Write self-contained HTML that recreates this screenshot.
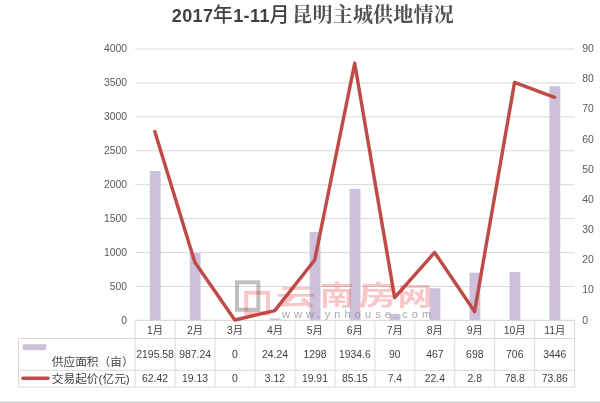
<!DOCTYPE html>
<html><head><meta charset="utf-8"><title>2017年1-11月 昆明主城供地情况</title>
<style>
html,body{margin:0;padding:0;background:#fff;}
body{width:600px;height:403px;overflow:hidden;position:relative;}
svg{display:block;position:absolute;left:0;top:0;}
text{font-family:"Liberation Sans","Noto Sans CJK SC",sans-serif;}
.ax{font-size:10.4px;fill:#595959;}
.tb{font-size:10.4px;fill:#404040;}
.cj{font-size:11.7px;fill:#404040;}
</style></head><body>
<svg width="600" height="403" viewBox="0 0 600 403">
<rect x="0" y="0" width="600" height="403" fill="#ffffff"/>

<line x1="135.1" y1="320.40" x2="574.7" y2="320.40" stroke="#d9d9d9" stroke-width="1"/>
<text class="ax" x="127" y="323.80" text-anchor="end">0</text>
<line x1="135.1" y1="286.47" x2="574.7" y2="286.47" stroke="#d9d9d9" stroke-width="1"/>
<text class="ax" x="127" y="289.87" text-anchor="end">500</text>
<line x1="135.1" y1="252.55" x2="574.7" y2="252.55" stroke="#d9d9d9" stroke-width="1"/>
<text class="ax" x="127" y="255.95" text-anchor="end">1000</text>
<line x1="135.1" y1="218.62" x2="574.7" y2="218.62" stroke="#d9d9d9" stroke-width="1"/>
<text class="ax" x="127" y="222.03" text-anchor="end">1500</text>
<line x1="135.1" y1="184.70" x2="574.7" y2="184.70" stroke="#d9d9d9" stroke-width="1"/>
<text class="ax" x="127" y="188.10" text-anchor="end">2000</text>
<line x1="135.1" y1="150.77" x2="574.7" y2="150.77" stroke="#d9d9d9" stroke-width="1"/>
<text class="ax" x="127" y="154.17" text-anchor="end">2500</text>
<line x1="135.1" y1="116.85" x2="574.7" y2="116.85" stroke="#d9d9d9" stroke-width="1"/>
<text class="ax" x="127" y="120.25" text-anchor="end">3000</text>
<line x1="135.1" y1="82.93" x2="574.7" y2="82.93" stroke="#d9d9d9" stroke-width="1"/>
<text class="ax" x="127" y="86.33" text-anchor="end">3500</text>
<line x1="135.1" y1="49.00" x2="574.7" y2="49.00" stroke="#d9d9d9" stroke-width="1"/>
<text class="ax" x="127" y="52.40" text-anchor="end">4000</text>
<text class="ax" x="582.2" y="323.50">0</text>
<text class="ax" x="582.2" y="293.34">10</text>
<text class="ax" x="582.2" y="263.19">20</text>
<text class="ax" x="582.2" y="233.03">30</text>
<text class="ax" x="582.2" y="202.88">40</text>
<text class="ax" x="582.2" y="172.72">50</text>
<text class="ax" x="582.2" y="142.57">60</text>
<text class="ax" x="582.2" y="112.41">70</text>
<text class="ax" x="582.2" y="82.26">80</text>
<text class="ax" x="582.2" y="52.10">90</text>
<rect x="149.83" y="171.03" width="10.8" height="149.37" fill="#ccc0da"/>
<rect x="189.80" y="253.02" width="10.8" height="67.38" fill="#ccc0da"/>
<rect x="269.72" y="318.36" width="10.8" height="2.04" fill="#ccc0da"/>
<rect x="309.69" y="231.93" width="10.8" height="88.47" fill="#ccc0da"/>
<rect x="349.65" y="188.74" width="10.8" height="131.66" fill="#ccc0da"/>
<rect x="389.61" y="313.89" width="10.8" height="6.51" fill="#ccc0da"/>
<rect x="429.58" y="288.31" width="10.8" height="32.09" fill="#ccc0da"/>
<rect x="469.54" y="272.64" width="10.8" height="47.76" fill="#ccc0da"/>
<rect x="509.50" y="272.10" width="10.8" height="48.30" fill="#ccc0da"/>
<rect x="549.47" y="86.19" width="10.8" height="234.21" fill="#ccc0da"/>
<line x1="135.10" y1="320.4" x2="135.10" y2="387" stroke="#d9d9d9"/>
<line x1="175.06" y1="320.4" x2="175.06" y2="387" stroke="#d9d9d9"/>
<line x1="215.03" y1="320.4" x2="215.03" y2="387" stroke="#d9d9d9"/>
<line x1="254.99" y1="320.4" x2="254.99" y2="387" stroke="#d9d9d9"/>
<line x1="294.95" y1="320.4" x2="294.95" y2="387" stroke="#d9d9d9"/>
<line x1="334.92" y1="320.4" x2="334.92" y2="387" stroke="#d9d9d9"/>
<line x1="374.88" y1="320.4" x2="374.88" y2="387" stroke="#d9d9d9"/>
<line x1="414.85" y1="320.4" x2="414.85" y2="387" stroke="#d9d9d9"/>
<line x1="454.81" y1="320.4" x2="454.81" y2="387" stroke="#d9d9d9"/>
<line x1="494.77" y1="320.4" x2="494.77" y2="387" stroke="#d9d9d9"/>
<line x1="534.74" y1="320.4" x2="534.74" y2="387" stroke="#d9d9d9"/>
<line x1="574.70" y1="320.4" x2="574.70" y2="387" stroke="#d9d9d9"/>
<line x1="135.1" y1="320.4" x2="574.7" y2="320.4" stroke="#d9d9d9"/>
<line x1="18.5" y1="338.5" x2="574.7" y2="338.5" stroke="#d9d9d9"/>
<line x1="18.5" y1="370.3" x2="574.7" y2="370.3" stroke="#d9d9d9"/>
<line x1="18.5" y1="387" x2="574.7" y2="387" stroke="#d9d9d9"/>
<line x1="18.5" y1="338.5" x2="18.5" y2="387" stroke="#d9d9d9"/>
<text class="tb" x="155.08" y="334" text-anchor="middle">1月</text>
<text class="tb" x="155.08" y="357.7" text-anchor="middle">2195.58</text>
<text class="tb" x="155.08" y="382" text-anchor="middle">62.42</text>
<text class="tb" x="195.05" y="334" text-anchor="middle">2月</text>
<text class="tb" x="195.05" y="357.7" text-anchor="middle">987.24</text>
<text class="tb" x="195.05" y="382" text-anchor="middle">19.13</text>
<text class="tb" x="235.01" y="334" text-anchor="middle">3月</text>
<text class="tb" x="235.01" y="357.7" text-anchor="middle">0</text>
<text class="tb" x="235.01" y="382" text-anchor="middle">0</text>
<text class="tb" x="274.97" y="334" text-anchor="middle">4月</text>
<text class="tb" x="274.97" y="357.7" text-anchor="middle">24.24</text>
<text class="tb" x="274.97" y="382" text-anchor="middle">3.12</text>
<text class="tb" x="314.94" y="334" text-anchor="middle">5月</text>
<text class="tb" x="314.94" y="357.7" text-anchor="middle">1298</text>
<text class="tb" x="314.94" y="382" text-anchor="middle">19.91</text>
<text class="tb" x="354.90" y="334" text-anchor="middle">6月</text>
<text class="tb" x="354.90" y="357.7" text-anchor="middle">1934.6</text>
<text class="tb" x="354.90" y="382" text-anchor="middle">85.15</text>
<text class="tb" x="394.86" y="334" text-anchor="middle">7月</text>
<text class="tb" x="394.86" y="357.7" text-anchor="middle">90</text>
<text class="tb" x="394.86" y="382" text-anchor="middle">7.4</text>
<text class="tb" x="434.83" y="334" text-anchor="middle">8月</text>
<text class="tb" x="434.83" y="357.7" text-anchor="middle">467</text>
<text class="tb" x="434.83" y="382" text-anchor="middle">22.4</text>
<text class="tb" x="474.79" y="334" text-anchor="middle">9月</text>
<text class="tb" x="474.79" y="357.7" text-anchor="middle">698</text>
<text class="tb" x="474.79" y="382" text-anchor="middle">2.8</text>
<text class="tb" x="514.75" y="334" text-anchor="middle">10月</text>
<text class="tb" x="514.75" y="357.7" text-anchor="middle">706</text>
<text class="tb" x="514.75" y="382" text-anchor="middle">78.8</text>
<text class="tb" x="554.72" y="334" text-anchor="middle">11月</text>
<text class="tb" x="554.72" y="357.7" text-anchor="middle">3446</text>
<text class="tb" x="554.72" y="382" text-anchor="middle">73.86</text>
<rect x="22.7" y="344.2" width="23.4" height="6" fill="#ccc0da"/>
<line x1="23" y1="378.2" x2="47.9" y2="378.2" stroke="#be4b48" stroke-width="3.6" stroke-linecap="round"/>
<text class="cj" x="51.8" y="365.8">供应面积（亩）</text>
<text class="cj" x="51.8" y="382.6">交易起价(亿元)</text>
<polyline points="155.08,132.17 195.05,262.71 235.01,320.40 274.97,310.99 314.94,260.36 354.90,63.63 394.86,298.08 434.83,252.85 474.79,311.96 514.75,82.77 554.72,97.67" fill="none" stroke="#be4b48" stroke-width="3.45" transform="translate(-0.2,-0.4)" stroke-linejoin="round" stroke-linecap="round"/>
<rect x="237" y="282.3" width="21.3" height="27.4" fill="none" stroke="#808080" stroke-width="4" opacity="0.5"/>
<g opacity="0.27">
<rect x="246.2" y="292.8" width="21.8" height="20.5" fill="none" stroke="#e83030" stroke-width="4"/>
<g style="font-size:10px;font-weight:700;fill:#e83030;">
<text transform="translate(276.00,305.08) scale(4.000,2.225)" x="0" y="0">云</text>
<text transform="translate(319.63,305.46) scale(3.443,2.713)" x="0" y="0">南</text>
<text transform="translate(358.54,304.52) scale(3.879,2.684)" x="0" y="0">房</text>
<text transform="translate(397.52,304.93) scale(3.476,2.517)" x="0" y="0">网</text>
</g>
</g>
<text x="282" y="318.3" style="font-size:11px;fill:#808080;letter-spacing:4.1px;" opacity="0.68">www.ynhouse.com</text>

<g style="font-weight:bold;fill:#404040;">
<text x="171.8" y="21.8" style="font-size:18px;letter-spacing:0.35px;">2017</text>
<text x="212.8" y="22.4" style="font-size:20px;font-weight:500;">年</text>
<text x="233.2" y="21.8" style="font-size:18px;letter-spacing:0.4px;">1-11</text>
<text x="269.5" y="22.3" style="font-size:20px;font-weight:500;">月</text>
<text x="292.3" y="21.7" style="font-family:'Liberation Serif','Noto Serif CJK SC',serif;font-size:20px;font-weight:700;letter-spacing:0.2px;fill:#505050;">昆明主城供地情况</text>
</g>
<rect x="0" y="401.6" width="600" height="1.4" fill="#cfcfcf"/>
</svg></body></html>
